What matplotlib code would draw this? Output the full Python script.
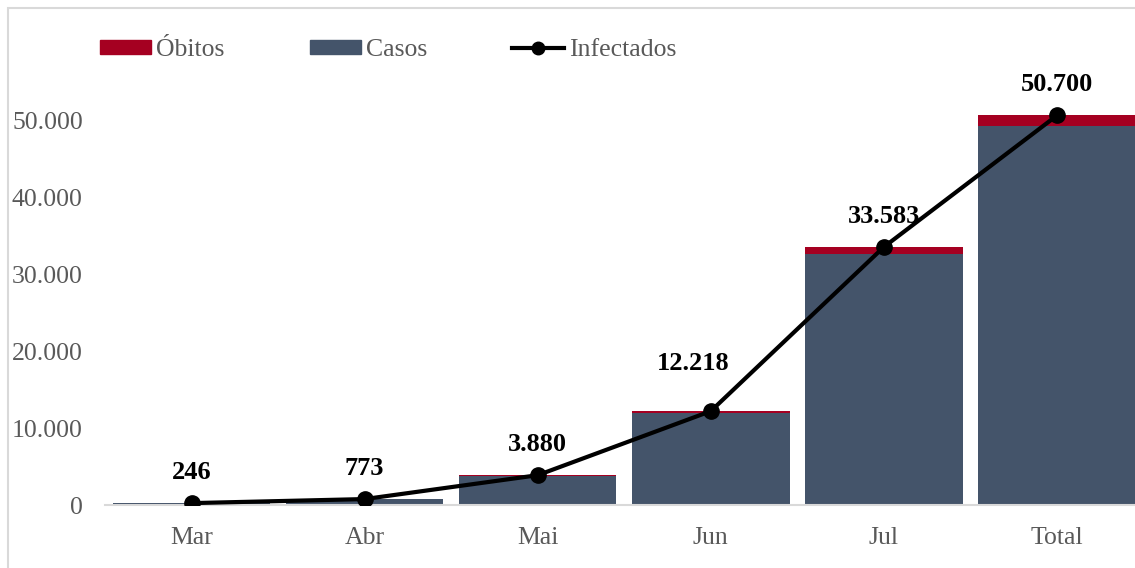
import matplotlib.pyplot as plt
from matplotlib.patches import Patch, Rectangle
from matplotlib.lines import Line2D
from matplotlib.ticker import FuncFormatter
import numpy as np

# dados
meses = ['Mar', 'Abr', 'Mai', 'Jun', 'Jul', 'Total']
infectados = [246, 773, 3880, 12218, 33583, 50700]
obitos = [8, 30, 120, 260, 900, 1318]
casos = [i - o for i, o in zip(infectados, obitos)]

cor_casos = '#44546A'
cor_obitos = '#A50021'
cinza = '#595959'

plt.rcParams['font.family'] = ['Liberation Serif', 'DejaVu Serif']

fig = plt.figure(figsize=(11.35, 5.68), dpi=100)
ax = fig.add_axes([0.0925, 0.1109, 0.915, 0.8116])

x = np.arange(len(meses))
ax.bar(x, casos, width=0.91, color=cor_casos, zorder=2)
ax.bar(x, obitos, width=0.91, bottom=casos, color=cor_obitos, zorder=2)
ax.plot(x, infectados, color='black', lw=3, marker='o', ms=11, zorder=3)

# deslocamento dos rótulos (pontos); o de Jun foi afastado da linha
desloc = {3: (-13, 29.5)}
for i, (xi, v) in enumerate(zip(x, infectados)):
    ax.annotate(f'{v:,}'.replace(',', '.'), (xi, v), xytext=desloc.get(i, (0, 17.3)),
                textcoords='offset points', ha='center', va='baseline',
                fontsize=19, fontweight='bold', color='black')

ax.set_xlim(-0.5, len(meses) - 0.5)
ax.set_ylim(0, 60000)
ax.set_yticks(range(0, 60000, 10000))
ax.yaxis.set_major_formatter(FuncFormatter(lambda v, p: f'{int(v):,}'.replace(',', '.')))
ax.set_xticks(x)
ax.set_xticklabels(meses)
ax.tick_params(axis='both', length=0, labelsize=18.5, labelcolor=cinza)
ax.tick_params(axis='y', pad=16)
ax.tick_params(axis='x', pad=16)

for s in ['top', 'right', 'left']:
    ax.spines[s].set_visible(False)
ax.spines['bottom'].set_color('#d9d9d9')
ax.spines['bottom'].set_linewidth(1.5)

handles = [Patch(color=cor_obitos), Patch(color=cor_casos),
           Line2D([], [], color='black', lw=3, marker='o', ms=9)]
leg = fig.legend(handles, ['Óbitos', 'Casos', 'Infectados'], ncol=3,
                 loc='center left', bbox_to_anchor=(0.0676, 0.912),
                 frameon=False, fontsize=18.5, handlelength=2.0, handleheight=0.45,
                 handletextpad=0.2, columnspacing=3.3)
for t in leg.get_texts():
    t.set_color(cinza)

# moldura do gráfico
fig.patches.append(Rectangle((8 / 1135, -0.05), 1.1, 1 - 8 / 568 + 0.05,
                             transform=fig.transFigure, fill=False,
                             edgecolor='#d9d9d9', lw=1.5))

fig.savefig('out.png', dpi=100)
